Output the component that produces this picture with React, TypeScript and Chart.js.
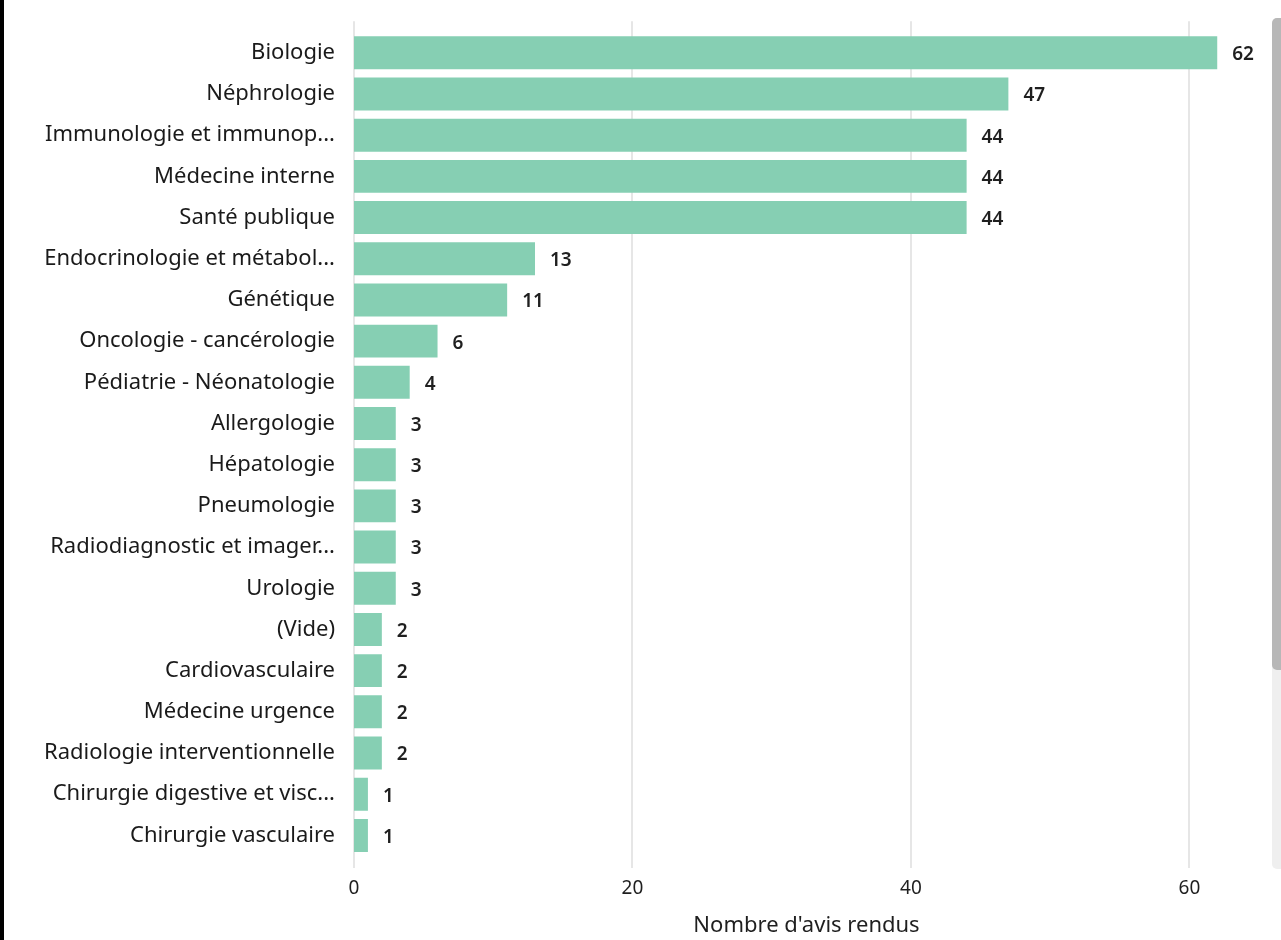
import React, { useEffect, useRef } from "react";
import { Chart, registerables } from "chart.js";

Chart.register(...registerables);

const categories = [
  "Biologie",
  "Néphrologie",
  "Immunologie et immunop...",
  "Médecine interne",
  "Santé publique",
  "Endocrinologie et métabol...",
  "Génétique",
  "Oncologie - cancérologie",
  "Pédiatrie - Néonatologie",
  "Allergologie",
  "Hépatologie",
  "Pneumologie",
  "Radiodiagnostic et imager...",
  "Urologie",
  "(Vide)",
  "Cardiovasculaire",
  "Médecine urgence",
  "Radiologie interventionnelle",
  "Chirurgie digestive et visc...",
  "Chirurgie vasculaire",
];

const avisRendus = [62, 47, 44, 44, 44, 13, 11, 6, 4, 3, 3, 3, 3, 3, 2, 2, 2, 2, 1, 1];

const xTicks = [0, 20, 40, 60];

const FONT = "'Noto Sans', 'Open Sans', sans-serif";

const gridPlugin = {
  id: "customGrid",
  beforeDatasetsDraw(chart: any) {
    const ctx = chart.ctx;
    const xs = chart.scales.x;
    const area = chart.chartArea;
    ctx.save();
    ctx.strokeStyle = "#e6e6e6";
    ctx.lineWidth = 2;
    xTicks.forEach((t) => {
      const px = Math.round(xs.getPixelForValue(t));
      ctx.beginPath();
      ctx.moveTo(px, area.top - 11);
      ctx.lineTo(px, area.bottom + 12);
      ctx.stroke();
    });
    ctx.restore();
  },
};

const valueLabelPlugin = {
  id: "valueLabels",
  afterDatasetsDraw(chart: any) {
    const ctx = chart.ctx;
    const meta = chart.getDatasetMeta(0);
    ctx.save();
    ctx.font = `600 19px ${FONT}`;
    ctx.fillStyle = "#1f1f1f";
    ctx.textAlign = "left";
    ctx.textBaseline = "middle";
    meta.data.forEach((bar: any, i: number) => {
      ctx.fillText(String(avisRendus[i]), bar.x + 15, bar.y + 2);
    });
    ctx.restore();
  },
};

export default function App() {
  const canvasRef = useRef<HTMLCanvasElement | null>(null);

  useEffect(() => {
    const prevMargin = document.body.style.margin;
    document.body.style.margin = "0";
    const canvas = canvasRef.current!;
    const chart = new Chart(canvas, {
      type: "bar",
      data: {
        labels: categories,
        datasets: [
          {
            data: avisRendus,
            backgroundColor: "#86cfb3",
            borderWidth: 0,
            categoryPercentage: 0.8,
            barPercentage: 1,
          },
        ],
      },
      options: {
        indexAxis: "y",
        animation: false,
        responsive: false,
        maintainAspectRatio: false,
        layout: { padding: { left: 0, right: 13, top: 29, bottom: 0 } },
        plugins: {
          legend: { display: false },
          tooltip: { enabled: false },
        },
        scales: {
          x: {
            type: "linear",
            min: 0,
            max: 65,
            afterBuildTicks: (scale: any) => {
              scale.ticks = xTicks.map((v) => ({ value: v }));
            },
            afterFit: (scale: any) => {
              scale.height = 84;
            },
            grid: { display: false, drawTicks: false },
            border: { display: false },
            ticks: {
              color: "#1f1f1f",
              padding: 21,
              font: { family: FONT, size: 19 },
            },
            title: {
              display: true,
              text: "Nombre d'avis rendus",
              color: "#1f1f1f",
              font: { family: FONT, size: 22 },
              padding: { top: 4, bottom: 1 },
            },
          },
          y: {
            type: "category",
            afterFit: (scale: any) => {
              scale.width = 354;
            },
            grid: { display: false, drawTicks: false },
            border: { display: false },
            ticks: {
              color: "#1a1a1a",
              padding: 19,
              autoSkip: false,
              font: { family: FONT, size: 22 },
            },
          },
        },
      },
      plugins: [gridPlugin, valueLabelPlugin],
    } as any);
    return () => {
      chart.destroy();
      document.body.style.margin = prevMargin;
    };
  }, []);

  return (
    <div style={{ position: "relative", width: 1281, height: 940, background: "#fff", overflow: "hidden" }}>
      <canvas ref={canvasRef} width={1272} height={940} style={{ position: "absolute", left: 0, top: 0, width: 1272, height: 940 }} />
      <div style={{ position: "absolute", left: 0, top: 0, width: 4, height: 940, background: "#000" }} />
      <div
        style={{
          position: "absolute",
          left: 1272,
          top: 18,
          width: 12,
          height: 851,
          background: "#efefef",
          borderRadius: "5px 0 0 5px",
        }}
      />
      <div
        style={{
          position: "absolute",
          left: 1272,
          top: 18,
          width: 12,
          height: 652,
          background: "#b7b7b7",
          borderRadius: "5px 0 0 5px",
        }}
      />
    </div>
  );
}
